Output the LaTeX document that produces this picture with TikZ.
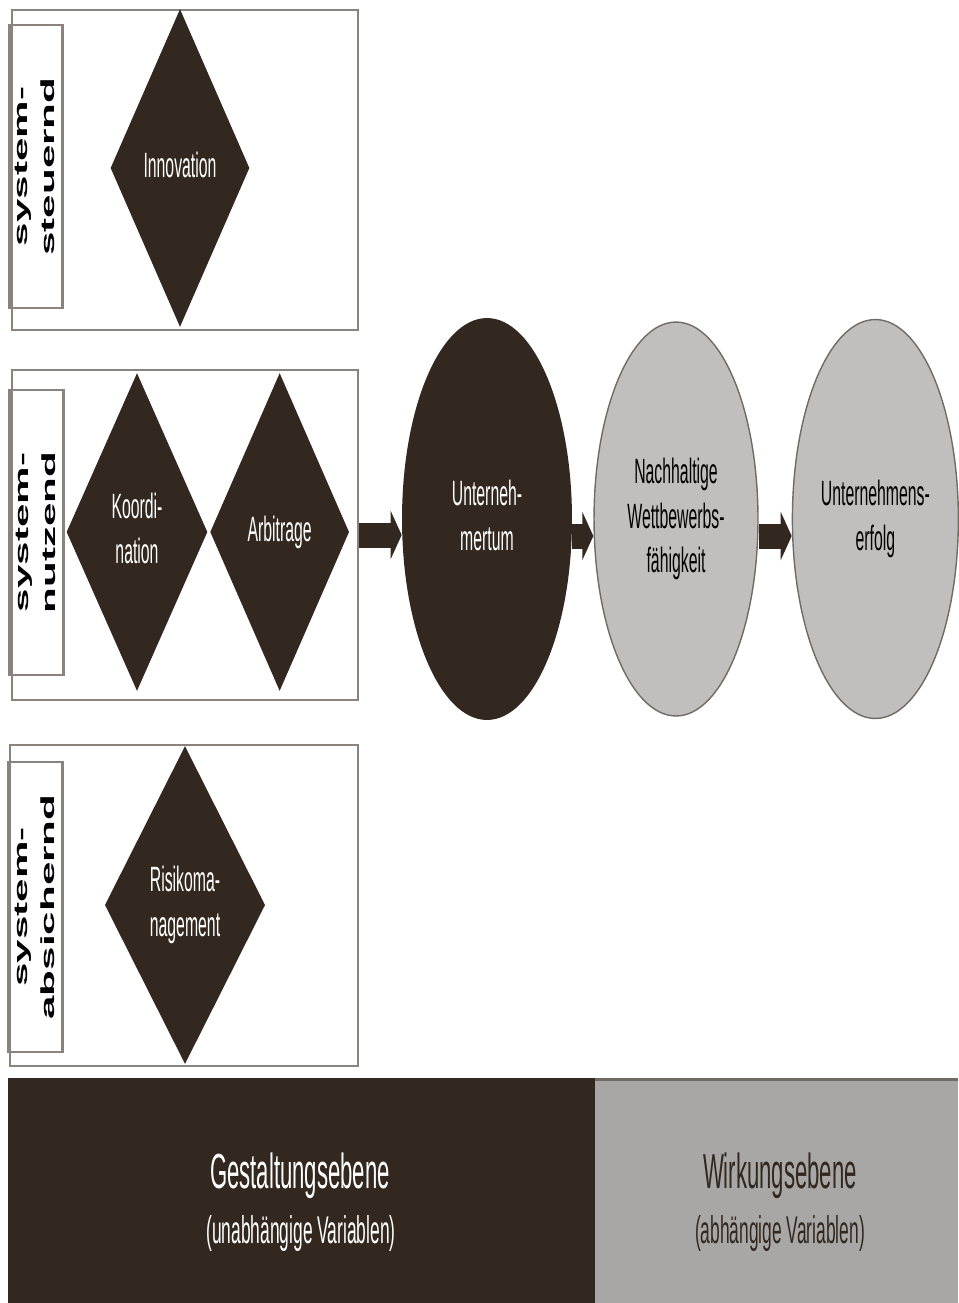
\documentclass[tikz,border=0pt]{standalone}
\usepackage{fontspec}
\setmainfont{Liberation Sans}
\usepackage{graphicx}
\usetikzlibrary{arrows.meta, positioning, calc, shapes.geometric}

\definecolor{darkbrown}{HTML}{32281F}
\definecolor{lightgrey}{HTML}{C0BFBD}
\definecolor{midgrey}{HTML}{A8A7A5}
\definecolor{framegrey}{HTML}{8A827C}
\definecolor{edgegrey}{HTML}{716B66}

\newcommand{\squeezed}[1]{\scalebox{0.45}[1]{\fontsize{20}{25.6}\selectfont\begin{tabular}{@{}c@{}}#1\end{tabular}}}
\newcommand{\sidelabel}[1]{\scalebox{1}[0.45]{\fontsize{24}{34}\selectfont\bfseries\begin{tabular}{@{}c@{}}#1\end{tabular}}}

\begin{document}
\begin{tikzpicture}[
    x=0.02cm, y=-0.02cm,
    frame/.style={rectangle, draw=framegrey, line width=1.6pt, inner sep=0pt},
    labelbox/.style={frame, rotate=90, text=black},
    diam/.style={diamond, fill=darkbrown, text=white, inner sep=0pt, minimum width=2.78cm, minimum height=6.36cm},
    oval/.style={ellipse, inner sep=0pt},
    blockarrow/.style={draw=darkbrown, line width=0.5cm, -{Triangle[length=0.22cm, width=0.96cm]}},
    band/.style={rectangle, inner sep=0pt}
]
    \useasboundingbox (0,0) rectangle (958,1303);

    \node[frame, minimum width=6.92cm, minimum height=6.4cm] (steuerbox) at (185,170) {};
    \node[frame, minimum width=6.92cm, minimum height=6.6cm] (nutzbox) at (185,535) {};
    \node[frame, minimum width=6.96cm, minimum height=6.42cm] (sicherbox) at (184,905.5) {};

    \node[labelbox, minimum width=5.66cm, minimum height=0.96cm] (steuerlabel) at (36,166.5) {\sidelabel{system-\\steuernd}};
    \node[labelbox, minimum width=5.7cm, minimum height=0.98cm] (nutzlabel) at (36.5,532.5) {\sidelabel{system-\\nutzend}};
    \node[labelbox, minimum width=5.8cm, minimum height=1.02cm] (sicherlabel) at (35.5,907) {\sidelabel{system-\\absichernd}};

    \node[diam] (innov) at (180,168) {\squeezed{Innovation}};
    \node[diam] (koord) at (137,532) {\squeezed{Koordi-\\nation}};
    \node[diam, right=0.04cm of koord] (arbit) {\squeezed{Arbitrage}};
    \node[diam] (risiko) at (185,905) {\squeezed{Risikoma-\\nagement}};

    \node[oval, fill=darkbrown, text=white, minimum width=3.4cm, minimum height=8.04cm] (unt) at (487,519) {\squeezed{Unterneh-\\mertum}};
    \node[oval, fill=lightgrey, draw=edgegrey, line width=0.8pt, minimum width=3.28cm, minimum height=7.88cm, right=0.42cm of unt] (wett) {\squeezed{Nachhaltige\\Wettbewerbs-\\fähigkeit}};
    \node[oval, fill=lightgrey, draw=edgegrey, line width=0.8pt, minimum width=3.32cm, minimum height=7.98cm, right=0.66cm of wett] (erfolg) {\squeezed{Unternehmens-\\erfolg}};

    \draw[blockarrow] (nutzbox.east) -- (nutzbox.east -| unt.west);
    \draw[blockarrow] ($(unt.east)+(0,17)$) -- ($(wett.west)+(0,17)$);
    \draw[blockarrow] ($(wett.east)+(0,17)$) -- ($(erfolg.west)+(0,17)$);

    \node[band, fill=darkbrown, minimum width=11.74cm, minimum height=4.5cm] (gestalt) at (301.5,1190.5) {};
    \node[band, fill=midgrey, minimum width=7.26cm, minimum height=4.46cm] (wirk) at (776.5,1191.5) {};
    \draw[edgegrey, line width=2pt] (wirk.north west) -- (wirk.north east);

    \node[anchor=base, text=white] (gestalttitle) at (300,1188) {\scalebox{0.45}[1]{\fontsize{28}{34}\selectfont Gestaltungsebene}};
    \node[anchor=base, text=white] (gestaltsub) at (301,1243) {\scalebox{0.45}[1]{\fontsize{22}{26}\selectfont (unabhängige Variablen)}};
    \node[anchor=base, text=darkbrown] (wirktitle) at (780,1188) {\scalebox{0.45}[1]{\fontsize{28}{34}\selectfont Wirkungsebene}};
    \node[anchor=base, text=darkbrown] (wirksub) at (780,1243) {\scalebox{0.45}[1]{\fontsize{22}{26}\selectfont (abhängige Variablen)}};
\end{tikzpicture}
\end{document}
